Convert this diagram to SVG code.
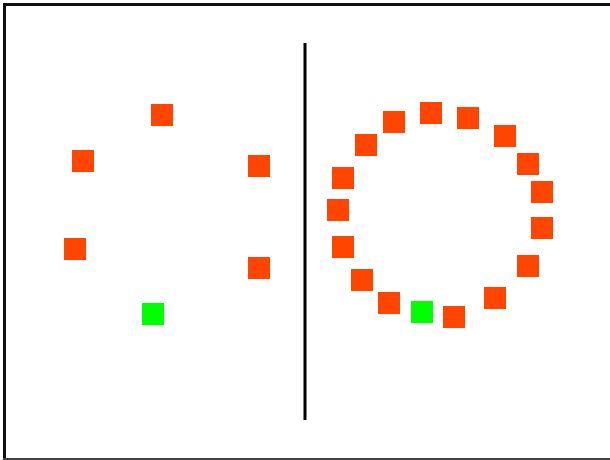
<svg xmlns="http://www.w3.org/2000/svg" width="610" height="460" viewBox="0 0 610 460">
<style>
.r{fill:#FF4500}
.g{fill:#00FF00}
.frame{stroke:#111;stroke-width:3;fill:none}
</style>
<rect width="610" height="460" fill="#fff"/>
<g id="frame">
<line class="frame" x1="3" y1="4.5" x2="610" y2="4.5"/>
<line class="frame" x1="4.5" y1="3" x2="4.5" y2="460"/>
<line x1="3" y1="459" x2="610" y2="459" stroke="#444" stroke-width="2"/>
</g>
<g id="connectors">
<line x1="305" y1="43" x2="305" y2="420" stroke="#000" stroke-width="3"/>
</g>
<g id="left">
<rect id="l1" class="r" x="151" y="104" width="22" height="22"/>
<rect id="l2" class="r" x="72" y="150" width="22" height="22"/>
<rect id="l3" class="r" x="248" y="155" width="22" height="22"/>
<rect id="l4" class="r" x="64" y="238" width="22" height="22"/>
<rect id="l5" class="r" x="248" y="257" width="22" height="22"/>
<rect id="l6" class="g" x="142" y="303" width="22" height="22"/>
</g>
<g id="right">
<rect id="c1" class="r" x="420" y="102" width="22" height="22"/>
<rect id="c2" class="r" x="457" y="107" width="22" height="22"/>
<rect id="c3" class="r" x="383" y="111" width="22" height="22"/>
<rect id="c4" class="r" x="494" y="125" width="22" height="22"/>
<rect id="c5" class="r" x="355" y="134" width="22" height="22"/>
<rect id="c6" class="r" x="517" y="153" width="22" height="22"/>
<rect id="c7" class="r" x="332" y="167" width="22" height="22"/>
<rect id="c8" class="r" x="531" y="181" width="22" height="22"/>
<rect id="c9" class="r" x="327" y="199" width="22" height="22"/>
<rect id="c10" class="r" x="531" y="217" width="22" height="22"/>
<rect id="c11" class="r" x="332" y="236" width="22" height="22"/>
<rect id="c12" class="r" x="517" y="255" width="22" height="22"/>
<rect id="c13" class="r" x="351" y="269" width="22" height="22"/>
<rect id="c14" class="r" x="484" y="287" width="22" height="22"/>
<rect id="c15" class="r" x="378" y="292" width="22" height="22"/>
<rect id="c16" class="g" x="411" y="301" width="22" height="22"/>
<rect id="c17" class="r" x="443" y="306" width="22" height="22"/>
</g>
</svg>
